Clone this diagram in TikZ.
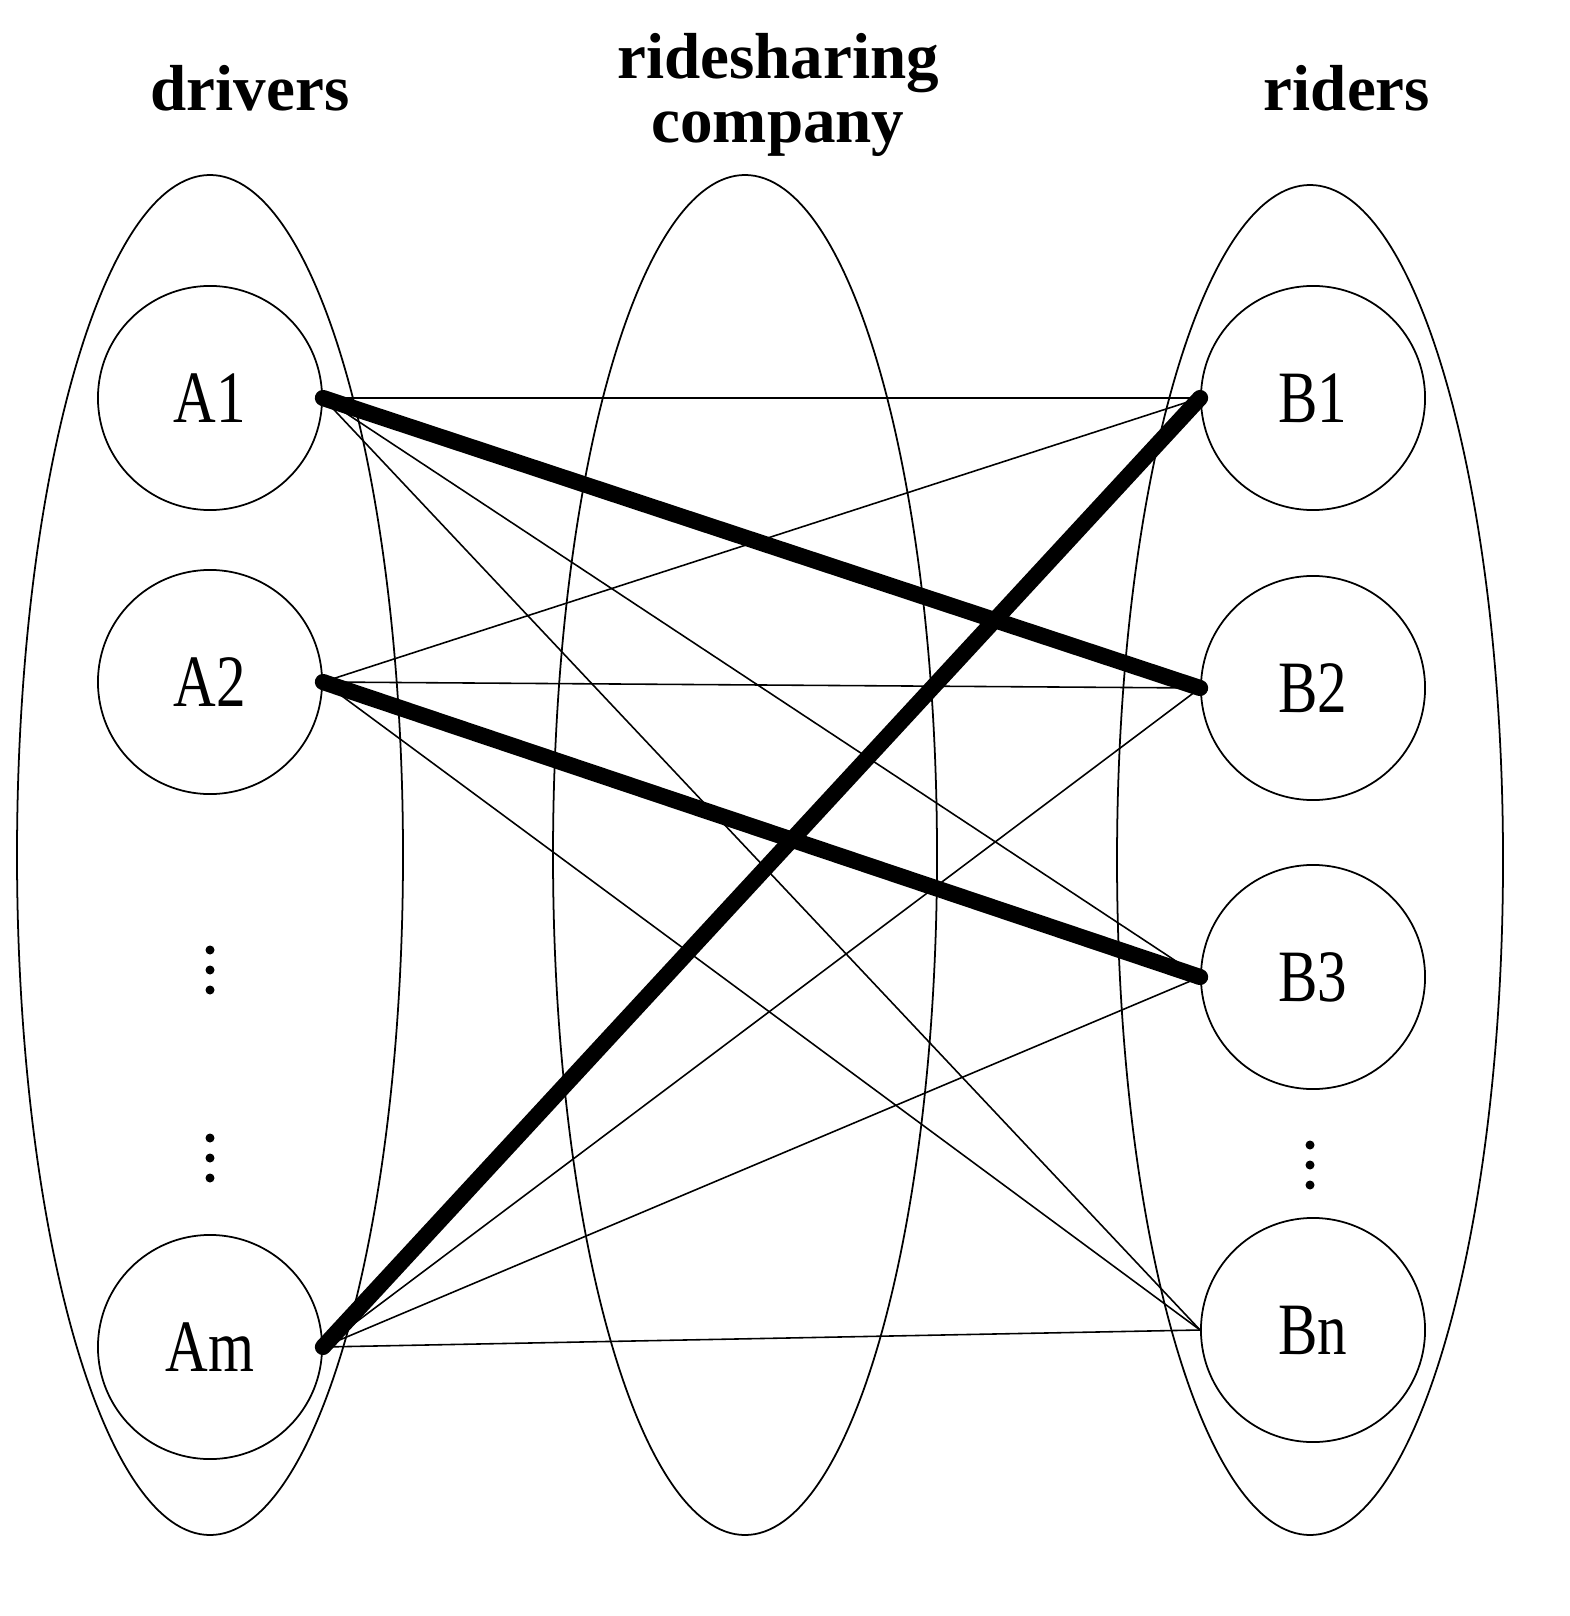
\documentclass[tikz,border=0pt]{standalone}
\usepackage{fontspec}
\setmainfont{Liberation Serif}
\begin{document}
\begin{tikzpicture}[x=0.01cm,y=-0.01cm,
  grp/.style={draw,line width=0.5pt},
  ag/.style={draw,circle,line width=0.5pt,minimum size=2.24cm,inner sep=0pt,font=\fontsize{21}{24}\selectfont},
  thin/.style={line width=0.45pt},
  thick/.style={line width=4.6pt,line cap=round},
  hd/.style={font=\bfseries\fontsize{18.5}{22}\selectfont,align=center}]
\useasboundingbox (0,0) rectangle (1569,1616);
\draw[grp] (210,855) ellipse [x radius=193, y radius=680];
\draw[grp] (745,855) ellipse [x radius=192, y radius=680];
\draw[grp] (1310,860) ellipse [x radius=193, y radius=675];
\node[hd] (hd) at (250,88) {drivers};
\node[hd] (hc) at (778,95) {ridesharing\\[-4pt]company};
\node[hd] (hr) at (1347,88) {riders};
\node[ag] (A1) at (210,398) {\scalebox{0.8}[1]{A1}};
\node[ag] (A2) at (210,682) {\scalebox{0.8}[1]{A2}};
\node[ag] (Am) at (210,1347) {\scalebox{0.8}[1]{Am}};
\node[ag] (B1) at (1313,398) {\scalebox{0.8}[1]{B1}};
\node[ag] (B2) at (1313,688) {\scalebox{0.8}[1]{B2}};
\node[ag] (B3) at (1313,977) {\scalebox{0.8}[1]{B3}};
\node[ag] (Bn) at (1313,1330) {\scalebox{0.8}[1]{Bn}};
\foreach \y in {950,970,990,1138,1158,1178} \fill (210,\y) circle (4.5);
\foreach \y in {1145,1165,1185} \fill (1310,\y) circle (4.5);
\foreach \a in {A1,A2,Am} \foreach \b in {B1,B2,B3,Bn}
  \draw[thin] (\a.east) -- (\b.west);
\draw[thick] (A1.east) -- (B2.west);
\draw[thick] (A2.east) -- (B3.west);
\draw[thick] (Am.east) -- (B1.west);
\end{tikzpicture}
\end{document}
